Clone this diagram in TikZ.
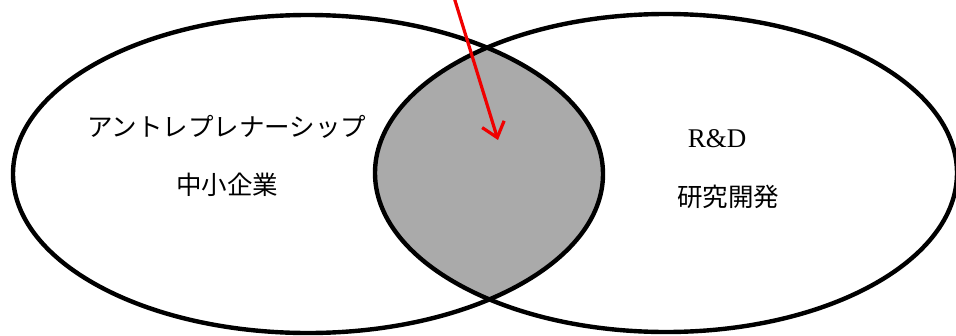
\documentclass[tikz,border=0pt]{standalone}
\usepackage{fontspec}
\setmainfont{Liberation Serif}
\newfontfamily\cjk{Noto Sans CJK JP}
\usetikzlibrary{arrows.meta}
\definecolor{venngray}{RGB}{170,170,170}
\definecolor{arrowred}{RGB}{240,0,0}
\tikzset{
  vennline/.style={draw=black, line width=4.4pt},
  cjklabel/.style={font=\cjk\fontsize{25.5}{29}\selectfont, inner sep=0pt},
  latinlabel/.style={font=\fontsize{27}{30}\selectfont, inner sep=0pt},
  pointer/.style={draw=arrowred, line width=3.2pt, -{Straight Barb[length=14pt,width=23pt]}}
}
\begin{document}
\begin{tikzpicture}[x=1pt,y=-1pt]
\useasboundingbox (0,0) rectangle (956,335);
\fill[white] (0,0) rectangle (956,335);
\begin{scope}
  \clip (308,174) ellipse [x radius=295pt, y radius=159pt];
  \fill[venngray] (666,173) ellipse [x radius=291pt, y radius=159pt];
\end{scope}
\draw[vennline] (308,174) ellipse [x radius=295pt, y radius=159pt];
\draw[vennline] (666,173) ellipse [x radius=291pt, y radius=159pt];
\node[cjklabel] (entre) at (227,127) {アントレプレナーシップ};
\node[cjklabel] (sme) at (227,185) {中小企業};
\node[latinlabel] (rd) at (717,139) {R\&D};
\node[cjklabel] (kenkyu) at (728,197) {研究開発};
\coordinate (arrowstart) at (453,-6);
\coordinate (arrowtip) at (498,140);
\draw[pointer] (arrowstart) -- (arrowtip);
\end{tikzpicture}
\end{document}
